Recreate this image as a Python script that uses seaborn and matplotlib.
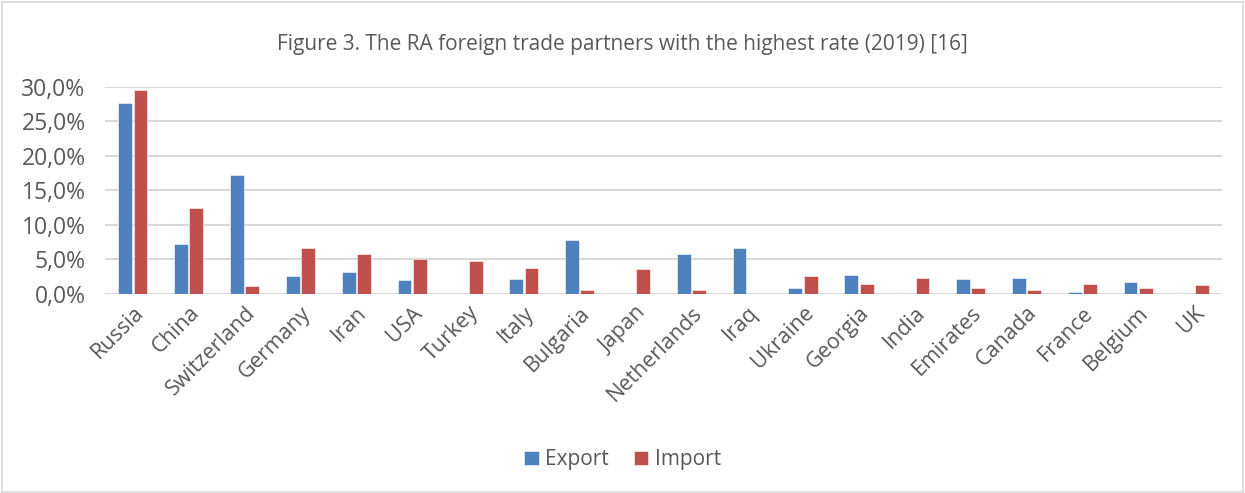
import pandas as pd
import matplotlib.pyplot as plt
import seaborn as sns
from matplotlib.ticker import FuncFormatter
from matplotlib.patches import Rectangle

# data (percent of trade, 2019)
countries = ["Russia", "China", "Switzerland", "Germany", "Iran", "USA", "Turkey",
             "Italy", "Bulgaria", "Japan", "Netherlands", "Iraq", "Ukraine",
             "Georgia", "India", "Emirates", "Canada", "France", "Belgium", "UK"]
export_vals = [27.7, 7.3, 17.3, 2.6, 3.2, 2.0, 0.0, 2.2, 7.8, 0.0,
               5.8, 6.6, 0.9, 2.7, 0.2, 2.2, 2.3, 0.3, 1.7, 0.2]
import_vals = [29.6, 12.5, 1.1, 6.7, 5.8, 5.0, 4.8, 3.7, 0.6, 3.6,
               0.6, 0.0, 2.6, 1.5, 2.3, 0.9, 0.6, 1.5, 0.8, 1.3]

df = pd.DataFrame({
    "Country": countries * 2,
    "Value": export_vals + import_vals,
    "Type": ["Export"] * len(countries) + ["Import"] * len(countries),
})

sns.set_style("white")
plt.rcParams['font.family'] = ['Open Sans', 'DejaVu Sans']
text_col = "#595959"

fig = plt.figure(figsize=(12.45, 4.93), dpi=100)
ax = fig.add_axes([0.0843, 0.4037, 0.8972, 0.4199])

sns.barplot(data=df, x="Country", y="Value", hue="Type",
            palette={"Export": "#4F81BD", "Import": "#C0504D"}, saturation=1,
            width=0.55, gap=0.1, edgecolor="white", linewidth=0.4, ax=ax)

ax.set_ylim(0, 30)
ax.set_yticks(range(0, 31, 5))
ax.yaxis.set_major_formatter(FuncFormatter(lambda v, p: f"{v:.1f}%".replace(".", ",")))
ax.grid(axis="y", color="#D9D9D9", linewidth=1.5)
ax.set_axisbelow(True)
sns.despine(ax=ax, left=True, bottom=True)
ax.set_xlim(-0.5, len(countries) - 0.5)
ax.set_xlabel("")
ax.set_ylabel("")
ax.tick_params(axis="x", length=0, colors=text_col, labelsize=15.5, pad=6)
ax.tick_params(axis="y", length=0, colors=text_col, labelsize=16.5, pad=14)
for lab in ax.get_xticklabels():
    lab.set_rotation(45)
    lab.set_ha("right")
    lab.set_rotation_mode("anchor")

fig.text(0.5, 0.91, "Figure 3. The RA foreign trade partners with the highest rate (2019) [16]",
         ha="center", va="center", fontsize=15, color=text_col)

handles, labels = ax.get_legend_handles_labels()
ax.legend_.remove()
fig.legend(handles, labels, loc="center", bbox_to_anchor=(0.5, 0.067), ncol=2,
           frameon=False, fontsize=15, labelcolor=text_col, handlelength=0.7,
           handleheight=0.7, handletextpad=0.3, columnspacing=1.2)

fig.patches.append(Rectangle((0.002, 0.002), 0.996, 0.994, transform=fig.transFigure,
                             fill=False, edgecolor="#D9D9D9", linewidth=1.2))

fig.savefig("out.png", dpi=100)
